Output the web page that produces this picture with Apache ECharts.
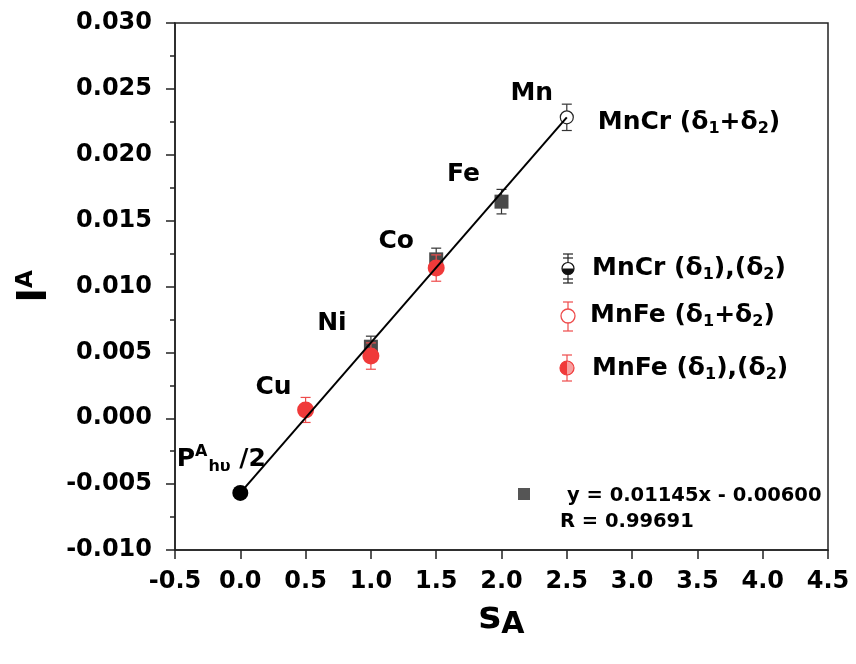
<!DOCTYPE html>
<html><head><meta charset="utf-8">
<script src="https://cdn.jsdelivr.net/npm/echarts@6/dist/echarts.min.js"></script>
<style>html,body{margin:0;padding:0;background:#fff}#c{width:856px;height:664px}</style>
</head><body><div id="c"></div>
<script>
// ---- data ----
const xMin = -0.5, xMax = 4.5, xStep = 0.5;
const yMin = -0.010, yMax = 0.030, yStep = 0.005;

// MnCr (δ1),(δ2): dark grey squares (Ni, Co, Fe)
const mnCrSplitX = [1.0, 1.5, 2.0];
const mnCrSplitY = [0.00543, 0.01206, 0.01644];
const mnCrSplitErr = [0.0008, 0.00085, 0.00093];

// MnFe (δ1),(δ2): red circles (Cu, Ni, Co)
const mnFeSplitX = [0.5, 1.0, 1.5];
const mnFeSplitY = [0.00063, 0.00472, 0.01140];
const mnFeSplitErr = [0.00095, 0.0010, 0.0010];

// MnCr (δ1+δ2): open circle (Mn)
const mnCrSumX = [2.5];
const mnCrSumY = [0.02284];
const mnCrSumErr = [0.0010];

// P^A_hυ/2 point
const pHalfX = [0.0];
const pHalfY = [-0.00567];

// fitted line endpoints (as drawn)
const fitX = [0.0, 2.5];
const fitY = [-0.00567, 0.02284];

const elementNames = ['Cu', 'Ni', 'Co', 'Fe', 'Mn'];
const fitText = 'y = 0.01145x - 0.00600';
const rText = 'R = 0.99691';

// ---- build ----
const FONT = 'DejaVu Sans';
const zip = (xs, ys) => xs.map((x, i) => [x, ys[i]]);
const zip3 = (xs, ys, es) => xs.map((x, i) => [x, ys[i], es[i]]);

function errRender(color, capW, lw) {
  return function (params, api) {
    const x = api.value(0), y = api.value(1), e = api.value(2);
    const t = api.coord([x, y + e]);
    const b = api.coord([x, y - e]);
    const h = capW / 2;
    const st = { stroke: color, lineWidth: lw };
    return {
      type: 'group',
      children: [
        { type: 'line', shape: { x1: t[0], y1: t[1], x2: b[0], y2: b[1] }, style: st },
        { type: 'line', shape: { x1: t[0] - h, y1: t[1], x2: t[0] + h, y2: t[1] }, style: st },
        { type: 'line', shape: { x1: b[0] - h, y1: b[1], x2: b[0] + h, y2: b[1] }, style: st }
      ]
    };
  };
}

const grey = '#4a4a4a';
const red = '#f03a3a';
const redErr = '#ee4c4c';

const labelPts = [
  [mnFeSplitX[0], mnFeSplitY[0]],
  [mnCrSplitX[0], mnCrSplitY[0]],
  [mnCrSplitX[1], mnCrSplitY[1]],
  [mnCrSplitX[2], mnCrSplitY[2]],
  [mnCrSumX[0], mnCrSumY[0]]
];
const labelOffsets = [[-32, -22], [-39, -23], [-40, -18], [-38, -27], [-35, -24]];

const subRich = {
  t: { fontFamily: FONT, fontWeight: 'bold', fontSize: 25, color: '#000' },
  s: { fontFamily: FONT, fontWeight: 'bold', fontSize: 16, color: '#000', padding: [14, 0, 0, 0] }
};

const legendTexts = [
  '{t|MnCr (δ}{s|1}{t|),(δ}{s|2}{t|)}',
  '{t|MnFe (δ}{s|1}{t|+δ}{s|2}{t|)}',
  '{t|MnFe (δ}{s|1}{t|),(δ}{s|2}{t|)}'
];

const lineSt = (c) => ({ stroke: c, lineWidth: 1.2 });

const option = {
  backgroundColor: '#fff',
  animation: false,
  grid: { left: 175, right: 28, top: 23, bottom: 114, show: true, borderColor: '#222', borderWidth: 1.5, backgroundColor: 'transparent' },
  xAxis: {
    type: 'value', min: xMin, max: xMax, interval: xStep,
    axisLine: { onZero: false, lineStyle: { color: '#222', width: 1.5 } },
    axisTick: { show: true, inside: false, length: 9, lineStyle: { color: '#222', width: 1.5 } },
    splitLine: { show: false },
    axisLabel: { margin: 20, color: '#000', fontFamily: FONT, fontWeight: 'bold', fontSize: 24, formatter: v => v.toFixed(1) },
    name: '{s|s}{a|A}', nameLocation: 'middle', nameGap: 35,
    nameTextStyle: { rich: {
      s: { fontFamily: FONT, fontWeight: 'bold', fontSize: 38, color: '#000' },
      a: { fontFamily: FONT, fontWeight: 'bold', fontSize: 30, color: '#000', padding: [14, 0, 0, 0] }
    } }
  },
  yAxis: {
    type: 'value', min: yMin, max: yMax, interval: yStep,
    axisLine: { onZero: false, lineStyle: { color: '#222', width: 1.5 } },
    axisTick: { show: true, inside: false, length: 9, lineStyle: { color: '#222', width: 1.5 } },
    minorTick: { show: true, splitNumber: 2, length: 5, lineStyle: { color: '#222', width: 1.5 } },
    splitLine: { show: false },
    axisLabel: { margin: 23, color: '#000', fontFamily: FONT, fontWeight: 'bold', fontSize: 24, formatter: v => v.toFixed(3) },
    name: '{i|I}{a|A}', nameLocation: 'middle', nameGap: 104, nameRotate: 90,
    nameTextStyle: { rich: {
      i: { fontFamily: FONT, fontWeight: 'bold', fontSize: 40, color: '#000' },
      a: { fontFamily: FONT, fontWeight: 'bold', fontSize: 23, color: '#000', padding: [0, 0, 18, 0] }
    } }
  },
  series: [
    { type: 'custom', name: 'MnCr err', renderItem: errRender('#333', 10, 1.2), data: zip3(mnCrSplitX, mnCrSplitY, mnCrSplitErr), z: 2 },
    { type: 'scatter', name: 'MnCr (δ1),(δ2)', data: zip(mnCrSplitX, mnCrSplitY), symbol: 'rect', symbolSize: 14, itemStyle: { color: grey, opacity: 1 }, z: 3 },
    { type: 'custom', name: 'MnFe err', renderItem: errRender(redErr, 10, 1.2), data: zip3(mnFeSplitX, mnFeSplitY, mnFeSplitErr), z: 4 },
    { type: 'scatter', name: 'MnFe (δ1),(δ2)', data: zip(mnFeSplitX, mnFeSplitY), symbol: 'circle', symbolSize: 17, itemStyle: { color: red, opacity: 1 }, z: 5 },
    { type: 'custom', name: 'MnCr sum err', renderItem: errRender('#333', 10, 1.2), data: zip3(mnCrSumX, mnCrSumY, mnCrSumErr), z: 4 },
    { type: 'scatter', name: 'MnCr (δ1+δ2)', data: zip(mnCrSumX, mnCrSumY), symbol: 'circle', symbolSize: 13,
      itemStyle: { color: '#fff', borderColor: '#222', borderWidth: 1.2, opacity: 1 }, z: 5,
      label: { show: true, position: 'inside', align: 'left', offset: [31, 5],
        formatter: '{t|MnCr (δ}{s|1}{t|+δ}{s|2}{t|)}', rich: subRich } },
    { type: 'line', name: 'fit', data: zip(fitX, fitY), symbol: 'none', lineStyle: { color: '#000', width: 2 }, z: 6 },
    { type: 'scatter', name: 'P', data: zip(pHalfX, pHalfY), symbol: 'circle', symbolSize: 16, itemStyle: { color: '#000', opacity: 1 }, z: 7,
      label: { show: true, position: 'inside', offset: [-19, -33],
        formatter: '{p|P}{sup|A}{sub|hυ}{p| /2}',
        rich: {
          p: { fontFamily: FONT, fontWeight: 'bold', fontSize: 25, color: '#000' },
          sup: { fontFamily: FONT, fontWeight: 'bold', fontSize: 16, color: '#000', padding: [0, 0, 16, 0] },
          sub: { fontFamily: FONT, fontWeight: 'bold', fontSize: 16, color: '#000', padding: [14, 0, 0, 1] }
        } } },
    { type: 'scatter', name: 'labels', symbolSize: 0, z: 8, silent: true, itemStyle: { opacity: 1 },
      data: labelPts.map((p, i) => ({ value: p, label: { offset: labelOffsets[i] } })),
      label: { show: true, position: 'inside', formatter: p => elementNames[p.dataIndex],
        fontFamily: FONT, fontWeight: 'bold', fontSize: 25, color: '#000' } }
  ],
  graphic: [
    // legend symbol 1: MnCr (δ1),(δ2) half filled black with double error bars
    { type: 'line', shape: { x1: 568, y1: 254, x2: 568, y2: 283 }, style: lineSt('#222') },
    { type: 'line', shape: { x1: 563, y1: 254, x2: 573, y2: 254 }, style: lineSt('#222') },
    { type: 'line', shape: { x1: 563, y1: 258, x2: 573, y2: 258 }, style: lineSt('#222') },
    { type: 'line', shape: { x1: 563, y1: 279, x2: 573, y2: 279 }, style: lineSt('#222') },
    { type: 'line', shape: { x1: 563, y1: 283, x2: 573, y2: 283 }, style: lineSt('#222') },
    { type: 'circle', shape: { cx: 568, cy: 268.5, r: 6 }, style: { fill: '#fff', stroke: '#111', lineWidth: 1.2 } },
    { type: 'sector', shape: { cx: 568, cy: 268.5, r: 6, r0: 0, startAngle: 0, endAngle: Math.PI }, style: { fill: '#111' } },
    { type: 'text', x: 592, y: 268, style: { text: legendTexts[0], rich: subRich, verticalAlign: 'middle', align: 'left' } },

    // legend symbol 2: MnFe (δ1+δ2) open red circle
    { type: 'line', shape: { x1: 568, y1: 302, x2: 568, y2: 331 }, style: lineSt(redErr) },
    { type: 'line', shape: { x1: 563, y1: 302, x2: 573, y2: 302 }, style: lineSt(redErr) },
    { type: 'line', shape: { x1: 563, y1: 331, x2: 573, y2: 331 }, style: lineSt(redErr) },
    { type: 'circle', shape: { cx: 568, cy: 316, r: 7 }, style: { fill: '#fff', stroke: redErr, lineWidth: 1.3 } },
    { type: 'text', x: 590, y: 315, style: { text: legendTexts[1], rich: subRich, verticalAlign: 'middle', align: 'left' } },

    // legend symbol 3: MnFe (δ1),(δ2) half filled red
    { type: 'line', shape: { x1: 567, y1: 355, x2: 567, y2: 381 }, style: lineSt(redErr) },
    { type: 'line', shape: { x1: 562, y1: 355, x2: 572, y2: 355 }, style: lineSt(redErr) },
    { type: 'line', shape: { x1: 562, y1: 381, x2: 572, y2: 381 }, style: lineSt(redErr) },
    { type: 'circle', shape: { cx: 567, cy: 368, r: 7 }, style: { fill: '#f7a0a0', stroke: red, lineWidth: 1.2 } },
    { type: 'sector', shape: { cx: 567, cy: 368, r: 7, r0: 0, startAngle: Math.PI / 2, endAngle: Math.PI * 1.5 }, style: { fill: red } },
    { type: 'text', x: 592, y: 368, style: { text: legendTexts[2], rich: subRich, verticalAlign: 'middle', align: 'left' } },

    // fit annotation
    { type: 'rect', shape: { x: 518, y: 488, width: 12, height: 12 }, style: { fill: '#555' } },
    { type: 'text', x: 567, y: 496, style: { text: fitText, fontFamily: FONT, fontWeight: 'bold', fontSize: 19.5, fill: '#000', verticalAlign: 'middle' } },
    { type: 'text', x: 560, y: 522, style: { text: rText, fontFamily: FONT, fontWeight: 'bold', fontSize: 19.5, fill: '#000', verticalAlign: 'middle' } }
  ]
};

const chart = echarts.init(document.getElementById('c'), null, { renderer: 'canvas' });
chart.setOption(option);
</script>
</body></html>
